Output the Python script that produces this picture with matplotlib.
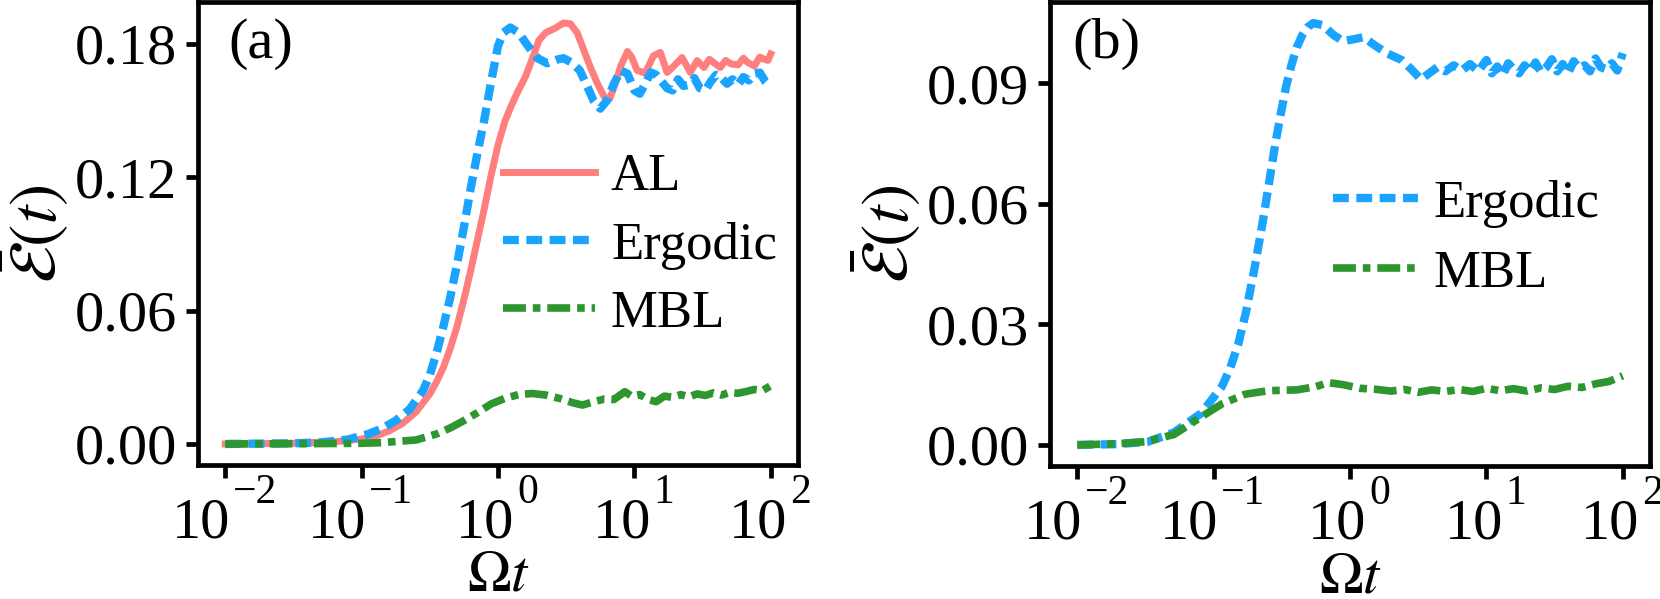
import numpy as np
import matplotlib
matplotlib.use("Agg")
import matplotlib.pyplot as plt
from matplotlib.ticker import NullLocator, FixedLocator, NullFormatter

plt.rcParams['font.family'] = ['Liberation Serif', 'DejaVu Serif']
plt.rcParams['mathtext.fontset'] = 'stix'

# ---- panel (a) data: log10(Omega t) and E(t) ----
al_logt = [-2.0, -1.5, -1.2, -1.0, -0.9, -0.8, -0.7, -0.6, -0.5, -0.45, -0.4, -0.35,
           -0.3, -0.25, -0.2, -0.15, -0.1, -0.05, 0.0, 0.05, 0.1, 0.15, 0.2, 0.25, 0.3,
           0.35, 0.42, 0.48, 0.53, 0.58, 0.63, 0.68, 0.73, 0.78, 0.82, 0.86, 0.9, 0.95,
           0.98, 1.02, 1.08, 1.14, 1.19, 1.24, 1.29, 1.35, 1.41, 1.46, 1.51, 1.55, 1.58,
           1.63, 1.67, 1.71, 1.76, 1.80, 1.83, 1.88, 1.92, 1.95, 1.98, 2.0]
al_val = [0.0, 0.0003, 0.0010, 0.0022, 0.0035, 0.0058, 0.0092, 0.0145, 0.0225, 0.0280,
          0.0345, 0.0430, 0.0530, 0.0650, 0.0780, 0.0920, 0.1060, 0.1210, 0.1345, 0.1450,
          0.1525, 0.1590, 0.1650, 0.1730, 0.1815, 0.1850, 0.1870, 0.1893, 0.1890, 0.1850,
          0.1770, 0.1690, 0.1620, 0.1560, 0.1553, 0.1620, 0.1700, 0.1765, 0.1740, 0.1680,
          0.1668, 0.1746, 0.1761, 0.1671, 0.1700, 0.1738, 0.1671, 0.1724, 0.1693, 0.1730,
          0.1716, 0.1693, 0.1725, 0.1709, 0.1705, 0.1735, 0.1716, 0.1700, 0.1740, 0.1731,
          0.1725, 0.1754]

erg_a_logt = [-2.0, -1.5, -1.3, -1.1, -0.95, -0.85, -0.75, -0.65, -0.55, -0.5, -0.45,
              -0.4, -0.35, -0.3, -0.25, -0.2, -0.15, -0.1, -0.05, 0.0, 0.04, 0.09, 0.15,
              0.22, 0.29, 0.36, 0.43, 0.48, 0.54, 0.6, 0.66, 0.70, 0.75, 0.80, 0.85, 0.90,
              0.95, 1.00, 1.04, 1.08, 1.12, 1.16, 1.20, 1.24, 1.28, 1.32, 1.36, 1.40, 1.44,
              1.48, 1.52, 1.56, 1.60, 1.64, 1.68, 1.72, 1.76, 1.80, 1.84, 1.88, 1.92, 1.96,
              2.0]
erg_a_val = [0.0, 0.0003, 0.0007, 0.0020, 0.0045, 0.0070, 0.0105, 0.0155, 0.0240, 0.0310,
             0.0410, 0.0530, 0.0660, 0.0810, 0.0975, 0.1150, 0.1310, 0.1460, 0.1630, 0.1790,
             0.1850, 0.1873, 0.1850, 0.1790, 0.1735, 0.1712, 0.1728, 0.1735, 0.1715, 0.1680,
             0.1600, 0.1545, 0.1508, 0.1545, 0.1620, 0.1680, 0.1665, 0.1590, 0.1575, 0.1620,
             0.1671, 0.1660, 0.1630, 0.1600, 0.1590, 0.1640, 0.1610, 0.1615, 0.1645, 0.1600,
             0.1590, 0.1630, 0.1660, 0.1645, 0.1620, 0.1640, 0.1615, 0.1650, 0.1635, 0.1665,
             0.1670, 0.1630, 0.1605]

mbl_a_logt = [-2.0, -1.5, -1.0, -0.85, -0.6, -0.45, -0.35, -0.25, -0.15, -0.05, 0.05, 0.15,
              0.25, 0.35, 0.45, 0.55, 0.62, 0.70, 0.78, 0.85, 0.93, 0.98, 1.04, 1.10, 1.16,
              1.22, 1.28, 1.34, 1.40, 1.46, 1.52, 1.58, 1.64, 1.70, 1.76, 1.82, 1.88, 1.94, 2.0]
mbl_a_val = [0.0, 0.0001, 0.0003, 0.0006, 0.0018, 0.0045, 0.0072, 0.0105, 0.0141, 0.0180,
             0.0205, 0.0222, 0.0227, 0.0220, 0.0205, 0.0185, 0.0175, 0.0190, 0.0202, 0.0200,
             0.0235, 0.0215, 0.0222, 0.0200, 0.0190, 0.0215, 0.0210, 0.0222, 0.0212, 0.0225,
             0.0218, 0.0230, 0.0220, 0.0232, 0.0228, 0.0236, 0.0245, 0.0240, 0.0262]

# ---- panel (b) data ----
erg_b_logt = [-2.0, -1.7, -1.48, -1.29, -1.09, -0.94, -0.88, -0.82, -0.76, -0.70, -0.64,
              -0.59, -0.55, -0.51, -0.47, -0.43, -0.39, -0.35, -0.31, -0.27, -0.20, -0.12,
              -0.05, 0.03, 0.10, 0.18, 0.27, 0.38, 0.45, 0.52, 0.58, 0.64, 0.70, 0.76, 0.82,
              0.88, 0.94, 1.00, 1.04, 1.08, 1.12, 1.16, 1.20, 1.24, 1.28, 1.32, 1.36, 1.40,
              1.44, 1.48, 1.52, 1.56, 1.60, 1.64, 1.68, 1.72, 1.76, 1.80, 1.84, 1.88, 1.92,
              1.96, 2.0]
erg_b_val = [0.0, 0.0002, 0.0008, 0.0031, 0.0079, 0.0145, 0.0190, 0.0250, 0.0335, 0.0440,
             0.0555, 0.0660, 0.0745, 0.0820, 0.0890, 0.0945, 0.0990, 0.1020, 0.1040, 0.1050,
             0.1045, 0.1020, 0.1005, 0.1010, 0.1015, 0.0995, 0.0975, 0.0958, 0.0935, 0.0910,
             0.0925, 0.0940, 0.0930, 0.0945, 0.0932, 0.0948, 0.0930, 0.0958, 0.0925, 0.0942,
             0.0920, 0.0950, 0.0935, 0.0925, 0.0945, 0.0930, 0.0952, 0.0928, 0.0940, 0.0960,
             0.0930, 0.0948, 0.0925, 0.0955, 0.0938, 0.0945, 0.0930, 0.0962, 0.0940, 0.0935,
             0.0950, 0.0932, 0.0975]

mbl_b_logt = [-2.0, -1.7, -1.5, -1.29, -1.09, -0.94, -0.77, -0.6, -0.39, -0.25, -0.16,
              -0.05, 0.07, 0.2, 0.3, 0.4, 0.5, 0.6, 0.7, 0.8, 0.9, 1.0, 1.1, 1.2, 1.3,
              1.4, 1.5, 1.6, 1.7, 1.8, 1.9, 2.0]
mbl_b_val = [0.0, 0.0003, 0.0008, 0.0026, 0.0070, 0.0102, 0.0126, 0.0135, 0.0137, 0.0145,
             0.0155, 0.0150, 0.0141, 0.0138, 0.0134, 0.0138, 0.0131, 0.0137, 0.0133, 0.0138,
             0.0133, 0.0141, 0.0135, 0.0140, 0.0134, 0.0142, 0.0138, 0.0146, 0.0143, 0.0152,
             0.0158, 0.0172]

yticks_a = [0.0, 0.06, 0.12, 0.18]
yticks_b = [0.0, 0.03, 0.06, 0.09]
xticks = [1e-2, 1e-1, 1e0, 1e1, 1e2]
xexps = ['\u22122', '\u22121', '0', '1', '2']

c_al = '#FF7F7F'
c_erg = '#1AA3FF'
c_mbl = '#2E962E'

FS = 42        # tick label size
FS_EXP = 30    # exponent size

fig = plt.figure(figsize=(16.6, 5.99), dpi=100)
ax1 = fig.add_axes([198 / 1660, 1 - 465 / 599, 600 / 1660, 463 / 599])
ax2 = fig.add_axes([1050 / 1660, 1 - 466 / 599, 600 / 1660, 464 / 599])

ax1.plot(10.0 ** np.array(al_logt), al_val, color=c_al, lw=5, label='AL')
ax1.plot(10.0 ** np.array(erg_a_logt), erg_a_val, color=c_erg, lw=6,
         dashes=(1.9, 0.9), label='Ergodic')
ax1.plot(10.0 ** np.array(mbl_a_logt), mbl_a_val, color=c_mbl, lw=5.5,
         dashes=(3.0, 0.9, 1.0, 0.9), label='MBL')

ax2.plot(10.0 ** np.array(erg_b_logt), erg_b_val, color=c_erg, lw=6,
         dashes=(1.9, 0.9), label='Ergodic')
ax2.plot(10.0 ** np.array(mbl_b_logt), mbl_b_val, color=c_mbl, lw=5.5,
         dashes=(3.0, 0.9, 1.0, 0.9), label='MBL')

for ax, yt, tag in [(ax1, yticks_a, '(a)'), (ax2, yticks_b, '(b)')]:
    ax.set_xscale('log')
    ax.xaxis.set_major_locator(FixedLocator(xticks))
    ax.xaxis.set_major_formatter(NullFormatter())
    ax.xaxis.set_minor_locator(NullLocator())
    ax.set_yticks(yt)
    ax.set_yticklabels(['%.2f' % v for v in yt])
    ax.tick_params(axis='both', labelsize=FS, width=3.4, length=9, direction='out')
    ax.tick_params(axis='y', pad=6)
    for s in ax.spines.values():
        s.set_linewidth(3.4)

    # x tick labels as "10" with a raised exponent
    for xt, e in zip(xticks, xexps):
        w_exp = FS_EXP * (1.064 if e.startswith('\u2212') else 0.5)
        total = FS + 3 + w_exp
        ax.annotate('10', xy=(xt, 0), xycoords=('data', 'axes fraction'),
                    xytext=(-total / 2 + FS, -52.5), textcoords='offset points',
                    ha='right', va='baseline', fontsize=FS, annotation_clip=False)
        ax.annotate(e, xy=(xt, 0), xycoords=('data', 'axes fraction'),
                    xytext=(-total / 2 + FS + 2, -27.5), textcoords='offset points',
                    ha='left', va='baseline', fontsize=FS_EXP, annotation_clip=False)

    ax.set_xlabel(r'$\Omega t$', fontsize=42)
    ax.xaxis.label.set_va('baseline')
    ax.xaxis.set_label_coords(0.5, -0.272)
    ax.set_ylabel(r'$\bar{\mathcal{E}}(t)$', fontsize=48, labelpad=3)
    ax.text(0.05 if tag == '(a)' else 0.037, 0.91, tag, transform=ax.transAxes,
            fontsize=42, va='center', ha='left')

ax1.legend(loc='center left', bbox_to_anchor=(0.508, 0.474), frameon=False,
           fontsize=38, handlelength=1.75, handletextpad=0.3, labelspacing=0.38,
           borderpad=0, borderaxespad=0)
ax2.legend(loc='center left', bbox_to_anchor=(0.472, 0.49), frameon=False,
           fontsize=38, handlelength=1.6, handletextpad=0.3, labelspacing=0.42,
           borderpad=0, borderaxespad=0)

fig.savefig('out.png', dpi=100)
